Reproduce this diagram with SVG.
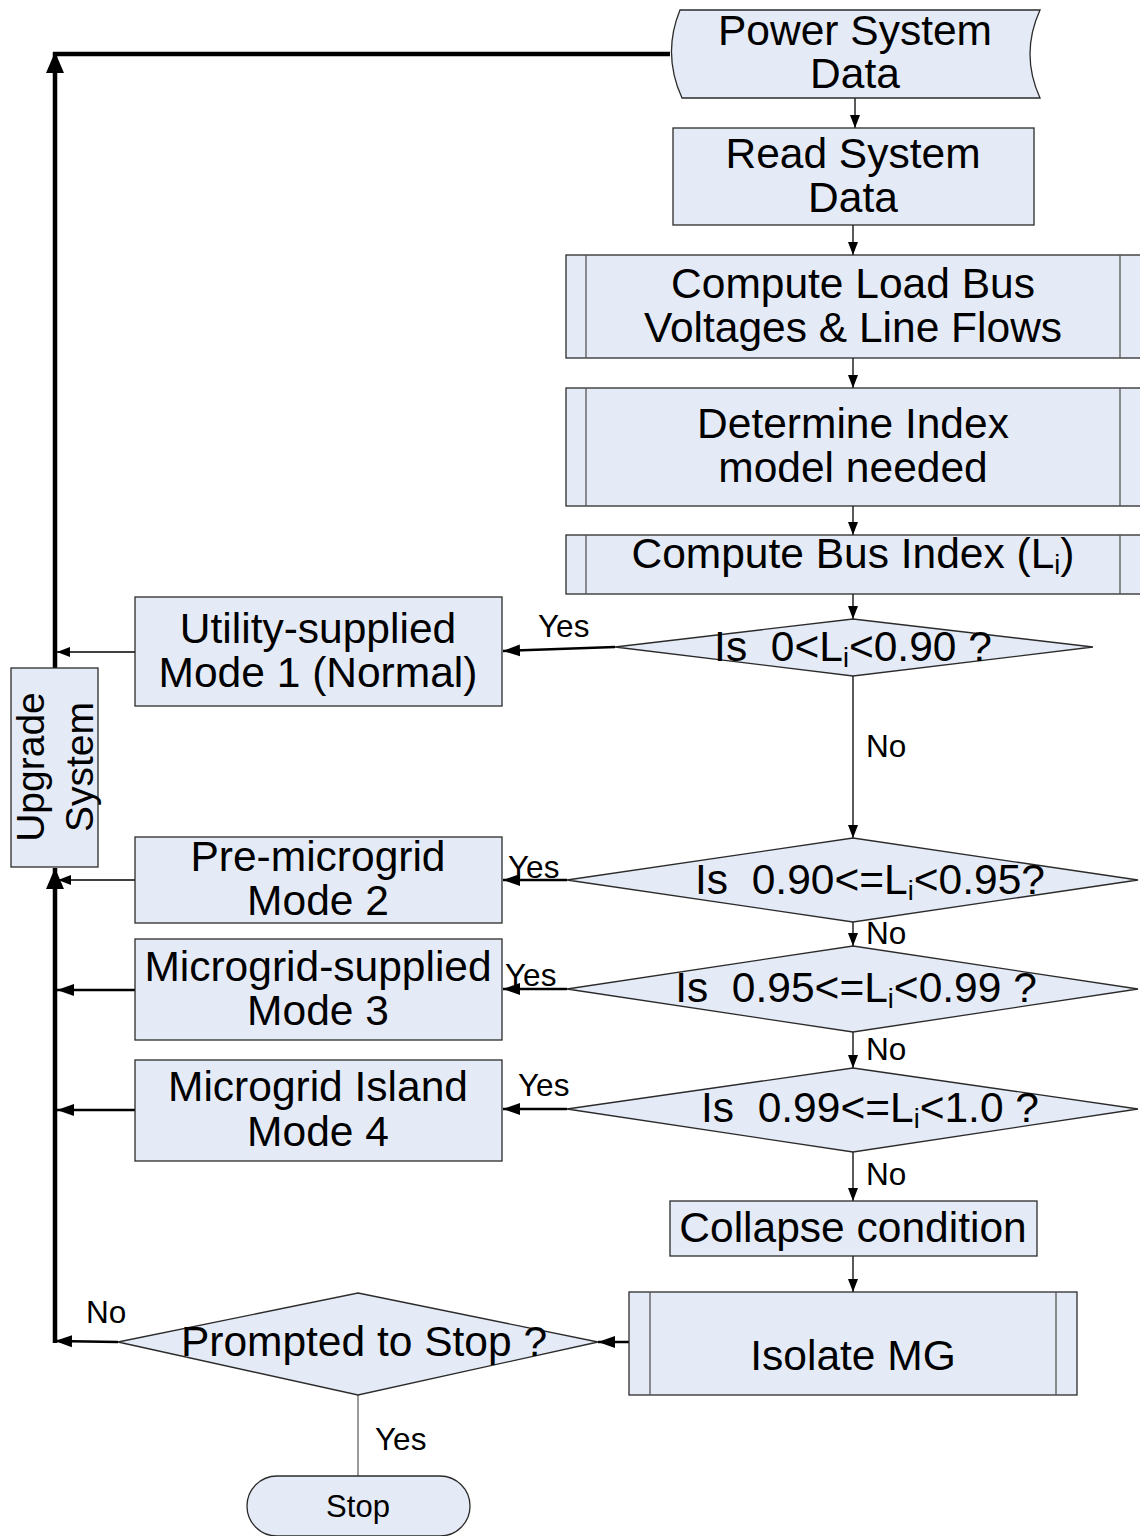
<svg xmlns="http://www.w3.org/2000/svg" width="1140" height="1536" viewBox="0 0 1140 1536">
  <defs>
    <style>
      .box { fill: #e5ebf6; stroke: #2b2b2b; stroke-width: 1.3; }
      .sub { fill: none; stroke: #555; stroke-width: 1.3; }
      .t { font-family: "Liberation Sans", Arial, sans-serif; font-size: 42.5px; fill: #000; text-anchor: middle; }
      .lbl { font-family: "Liberation Sans", Arial, sans-serif; font-size: 31.5px; fill: #000; }
      .thin { fill: none; stroke: #000; stroke-width: 1.3; }
      .mid { fill: none; stroke: #000; stroke-width: 2.5; }
      .thick { fill: none; stroke: #000; stroke-width: 4.5; }
      .sb { font-size: 27px; }
    </style>
    <marker id="aSmall" markerUnits="userSpaceOnUse" markerWidth="14" markerHeight="12" refX="13" refY="6" orient="auto">
      <path d="M0,1 L13,6 L0,11 Z" fill="#000"/>
    </marker>
    <marker id="aMid" markerUnits="userSpaceOnUse" markerWidth="18" markerHeight="14" refX="17" refY="7" orient="auto">
      <path d="M0,1 L17,7 L0,13 Z" fill="#000"/>
    </marker>
    <marker id="aBig" markerUnits="userSpaceOnUse" markerWidth="22" markerHeight="20" refX="21" refY="10" orient="auto">
      <path d="M0,1 L21,10 L0,19 Z" fill="#000"/>
    </marker>
  </defs>

  <!-- connectors -->
  <g id="connectors">
    <!-- main vertical flow -->
    <line class="thin" x1="855" y1="98" x2="855" y2="128" marker-end="url(#aSmall)"/>
    <line class="thin" x1="853" y1="225" x2="853" y2="255" marker-end="url(#aSmall)"/>
    <line class="thin" x1="853" y1="358" x2="853" y2="388" marker-end="url(#aSmall)"/>
    <line class="thin" x1="853" y1="506" x2="853" y2="535" marker-end="url(#aSmall)"/>
    <line class="thin" x1="853" y1="594" x2="853" y2="619" marker-end="url(#aSmall)"/>
    <line class="thin" x1="853" y1="676" x2="853" y2="838" marker-end="url(#aSmall)"/>
    <line class="thin" x1="853" y1="922" x2="853" y2="946" marker-end="url(#aSmall)"/>
    <line class="thin" x1="853" y1="1032" x2="853" y2="1068" marker-end="url(#aSmall)"/>
    <line class="thin" x1="853" y1="1152" x2="853" y2="1201" marker-end="url(#aSmall)"/>
    <line class="thin" x1="853" y1="1256" x2="853" y2="1292" marker-end="url(#aSmall)"/>

    <!-- yes branches to the mode boxes -->
    <line class="mid" x1="615" y1="647" x2="503" y2="651" marker-end="url(#aMid)"/>
    <line class="mid" x1="567" y1="880" x2="503" y2="880" marker-end="url(#aMid)"/>
    <line class="mid" x1="567" y1="989" x2="503" y2="989" marker-end="url(#aMid)"/>
    <line class="mid" x1="567" y1="1109" x2="503" y2="1109" marker-end="url(#aMid)"/>

    <!-- mode boxes back to the return line -->
    <line class="thin" x1="135" y1="652" x2="57" y2="652" marker-end="url(#aSmall)"/>
    <line class="thin" x1="135" y1="880" x2="58" y2="880" marker-end="url(#aSmall)"/>
    <line class="mid" x1="135" y1="990" x2="57" y2="990" marker-end="url(#aMid)"/>
    <line class="mid" x1="135" y1="1110" x2="57" y2="1110" marker-end="url(#aMid)"/>

    <!-- isolate MG to stop decision -->
    <line class="mid" x1="629" y1="1342" x2="598" y2="1342" marker-end="url(#aMid)"/>
    <!-- stop decision: no -->
    <line class="mid" x1="118" y1="1342" x2="55" y2="1341" marker-end="url(#aMid)"/>
    <!-- stop decision: yes -->
    <line x1="358" y1="1395" x2="358" y2="1476" stroke="#666" stroke-width="1.3"/>

    <!-- return loop -->
    <line class="thick" x1="55" y1="1343" x2="55" y2="868" marker-end="url(#aBig)"/>
    <line class="thick" x1="55" y1="668" x2="55" y2="52" marker-end="url(#aBig)"/>
    <line class="thick" x1="53" y1="54" x2="670" y2="54"/>
  </g>

  <!-- stored data -->
  <g id="power-system-data">
    <path class="box" d="M680,10 L1040,10 Q1020,54 1040,98 L682,98 Q662,54 680,10 Z"/>
    <text class="t" x="855" y="45">Power System</text>
    <text class="t" x="855" y="88">Data</text>
  </g>

  <g id="read-system-data">
    <rect class="box" x="673" y="128" width="361" height="97"/>
    <text class="t" x="853" y="168">Read System</text>
    <text class="t" x="853" y="212">Data</text>
  </g>

  <g id="compute-load-bus">
    <rect class="box" x="566" y="255" width="590" height="103"/>
    <line class="sub" x1="586" y1="255" x2="586" y2="358"/>
    <line class="sub" x1="1120" y1="255" x2="1120" y2="358"/>
    <text class="t" x="853" y="298">Compute Load Bus</text>
    <text class="t" x="853" y="342">Voltages &amp; Line Flows</text>
  </g>

  <g id="determine-index">
    <rect class="box" x="566" y="388" width="590" height="118"/>
    <line class="sub" x1="586" y1="388" x2="586" y2="506"/>
    <line class="sub" x1="1120" y1="388" x2="1120" y2="506"/>
    <text class="t" x="853" y="438">Determine Index</text>
    <text class="t" x="853" y="482">model needed</text>
  </g>

  <g id="compute-bus-index">
    <rect class="box" x="566" y="535" width="590" height="59"/>
    <line class="sub" x1="586" y1="535" x2="586" y2="594"/>
    <line class="sub" x1="1120" y1="535" x2="1120" y2="594"/>
    <text class="t" x="853" y="568">Compute Bus Index (L<tspan class="sb" dy="6">i</tspan><tspan dy="-6">)</tspan></text>
  </g>

  <g id="decision-1">
    <polygon class="box" points="853,619 1093,647 853,676 615,647"/>
    <text class="t" x="853" y="661" xml:space="preserve">Is  0&lt;L<tspan class="sb" dy="6">i</tspan><tspan dy="-6">&lt;0.90 ?</tspan></text>
  </g>

  <g id="decision-2">
    <polygon class="box" points="853,838 1138,880 853,922 567,880"/>
    <text class="t" x="870" y="894" xml:space="preserve">Is  0.90&lt;=L<tspan class="sb" dy="6">i</tspan><tspan dy="-6">&lt;0.95?</tspan></text>
  </g>

  <g id="decision-3">
    <polygon class="box" points="853,946 1138,989 853,1032 567,989"/>
    <text class="t" x="856" y="1002" xml:space="preserve">Is  0.95&lt;=L<tspan class="sb" dy="6">i</tspan><tspan dy="-6">&lt;0.99 ?</tspan></text>
  </g>

  <g id="decision-4">
    <polygon class="box" points="853,1068 1138,1109 853,1152 567,1109"/>
    <text class="t" x="870" y="1122" xml:space="preserve">Is  0.99&lt;=L<tspan class="sb" dy="6">i</tspan><tspan dy="-6">&lt;1.0 ?</tspan></text>
  </g>

  <g id="collapse-condition">
    <rect class="box" x="670" y="1201" width="367" height="55"/>
    <text class="t" x="853" y="1242">Collapse condition</text>
  </g>

  <g id="isolate-mg">
    <rect class="box" x="629" y="1292" width="448" height="103"/>
    <line class="sub" x1="650" y1="1292" x2="650" y2="1395"/>
    <line class="sub" x1="1056" y1="1292" x2="1056" y2="1395"/>
    <text class="t" x="853" y="1370">Isolate MG</text>
  </g>

  <g id="prompted-to-stop">
    <polygon class="box" points="358,1293 598,1342 358,1395 118,1342"/>
    <text class="t" x="364" y="1356">Prompted to Stop ?</text>
  </g>

  <g id="stop">
    <rect class="box" x="247" y="1476" width="223" height="60" rx="30" ry="30"/>
    <text class="t" x="358" y="1517" style="font-size:31px">Stop</text>
  </g>

  <g id="mode-1">
    <rect class="box" x="135" y="597" width="367" height="109"/>
    <text class="t" x="318" y="643">Utility-supplied</text>
    <text class="t" x="318" y="687">Mode 1 (Normal)</text>
  </g>

  <g id="mode-2">
    <rect class="box" x="135" y="837" width="367" height="86"/>
    <text class="t" x="318" y="871">Pre-microgrid</text>
    <text class="t" x="318" y="915">Mode 2</text>
  </g>

  <g id="mode-3">
    <rect class="box" x="135" y="939" width="367" height="101"/>
    <text class="t" x="318" y="981">Microgrid-supplied</text>
    <text class="t" x="318" y="1025">Mode 3</text>
  </g>

  <g id="mode-4">
    <rect class="box" x="135" y="1060" width="367" height="101"/>
    <text class="t" x="318" y="1101">Microgrid Island</text>
    <text class="t" x="318" y="1146">Mode 4</text>
  </g>

  <g id="upgrade-system">
    <rect class="box" x="11" y="668" width="87" height="199"/>
    <text class="t" transform="translate(44,767) rotate(-90)" style="font-size:39px">Upgrade</text>
    <text class="t" transform="translate(93,767) rotate(-90)" style="font-size:39px">System</text>
  </g>

  <!-- branch labels -->
  <g id="labels">
    <text class="lbl" x="538" y="637">Yes</text>
    <text class="lbl" x="866" y="757">No</text>
    <text class="lbl" x="508" y="878">Yes</text>
    <text class="lbl" x="866" y="944">No</text>
    <text class="lbl" x="505" y="986">Yes</text>
    <text class="lbl" x="866" y="1060">No</text>
    <text class="lbl" x="518" y="1096">Yes</text>
    <text class="lbl" x="866" y="1185">No</text>
    <text class="lbl" x="86" y="1323">No</text>
    <text class="lbl" x="375" y="1450">Yes</text>
  </g>
</svg>
